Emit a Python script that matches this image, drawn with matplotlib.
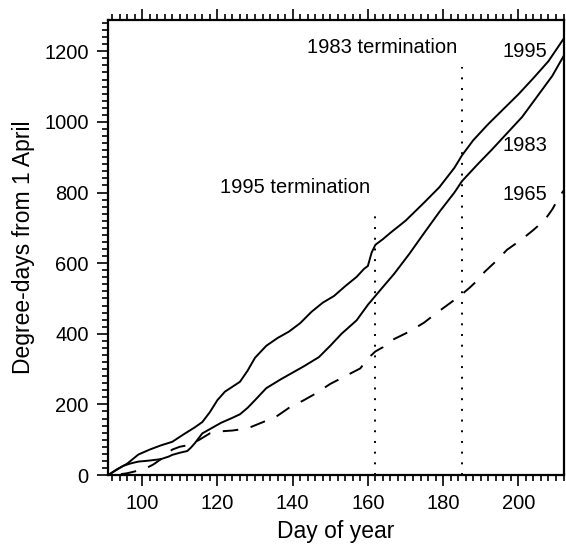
import matplotlib
matplotlib.use('Agg')
import matplotlib.pyplot as plt
from matplotlib.ticker import MultipleLocator

plt.rcParams['font.family'] = ['Liberation Sans', 'DejaVu Sans']

# day of year / degree-days
day_1995 = [91, 94, 96, 99, 102, 105, 108, 111, 114, 116, 118, 120, 122, 124, 126, 128,
            130, 133, 136, 139, 142, 145, 148, 151, 154, 157, 159, 160, 161, 162, 164,
            166, 170, 175, 179, 183, 185, 188, 192, 196, 200, 204, 208, 212]
dd_1995 = [0, 20, 32, 58, 72, 84, 94, 115, 135, 150, 178, 212, 236, 250, 264, 295,
           332, 366, 388, 406, 430, 462, 488, 507, 535, 561, 584, 592, 630, 652, 668,
           686, 720, 772, 815, 870, 905, 948, 994, 1036, 1078, 1124, 1172, 1235]

day_1983 = [91, 93, 95, 97, 99, 102, 105, 107, 108, 110, 112, 113, 114, 116, 118, 121,
            124, 126, 128, 130, 133, 137, 140, 143, 147, 150, 153, 157, 160, 163, 167,
            171, 175, 179, 183, 185, 189, 193, 197, 201, 205, 209, 212]
dd_1983 = [0, 14, 26, 33, 38, 41, 45, 52, 57, 63, 68, 78, 90, 118, 130, 148,
           162, 172, 190, 212, 246, 272, 290, 308, 334, 366, 400, 438, 482, 520, 570,
           626, 686, 745, 800, 832, 878, 922, 968, 1014, 1072, 1130, 1186]

day_1965 = [91, 94, 96, 98, 101, 103, 105, 108, 110, 113, 116, 118, 120, 124, 128, 131,
            134, 136, 139, 143, 146, 150, 154, 158, 160, 162, 164, 166, 171, 175, 178,
            182, 185, 187, 189, 191, 194, 197, 201, 204, 207, 209, 211, 212]
dd_1965 = [0, 2, 5, 10, 19, 30, 45, 72, 80, 86, 105, 118, 123, 126, 132, 145,
           158, 168, 190, 212, 230, 258, 280, 302, 330, 350, 362, 380, 406, 432, 457,
           488, 512, 530, 550, 575, 605, 638, 668, 694, 722, 752, 790, 805]

term_days = [162, 185]
term_tops = [755, 1155]

fig = plt.figure(figsize=(5.66, 5.51), dpi=100)
ax = fig.add_axes([0.1913, 0.1379, 0.8043, 0.8267])

ax.plot(day_1995, dd_1995, color='black', lw=1.4)
ax.plot(day_1983, dd_1983, color='black', lw=1.4)
ax.plot(day_1965, dd_1965, color='black', lw=1.4, linestyle=(8, (8, 6.5)))

for d, top in zip(term_days, term_tops):
    ax.plot([d, d], [0, top], color='black', lw=1.4, linestyle=(0, (1, 4.5)))

ax.text(160.6, 813, '1995 termination', ha='right', va='center', fontsize=14.5)
ax.text(183.8, 1210, '1983 termination', ha='right', va='center', fontsize=14.5)
ax.text(201.8, 1200, '1995', ha='center', va='center', fontsize=14.5)
ax.text(201.8, 933, '1983', ha='center', va='center', fontsize=14.5)
ax.text(201.8, 794, '1965', ha='center', va='center', fontsize=14.5)

ax.set_xlim(91, 212)
ax.set_ylim(0, 1290)
ax.xaxis.set_major_locator(MultipleLocator(20))
ax.xaxis.set_minor_locator(MultipleLocator(2))
ax.yaxis.set_major_locator(MultipleLocator(200))
ax.yaxis.set_minor_locator(MultipleLocator(20))
ax.tick_params(which='both', direction='out', top=True, right=False, width=1.2,
               labelsize=14.5)
ax.tick_params(which='major', length=8, pad=6)
ax.tick_params(which='minor', length=4)
for s in ax.spines.values():
    s.set_linewidth(1.6)

ax.set_xlabel('Day of year', fontsize=16.5, labelpad=5)
ax.set_ylabel('Degree-days from 1 April', fontsize=16.5, labelpad=7)

fig.savefig('out.png', dpi=100)
